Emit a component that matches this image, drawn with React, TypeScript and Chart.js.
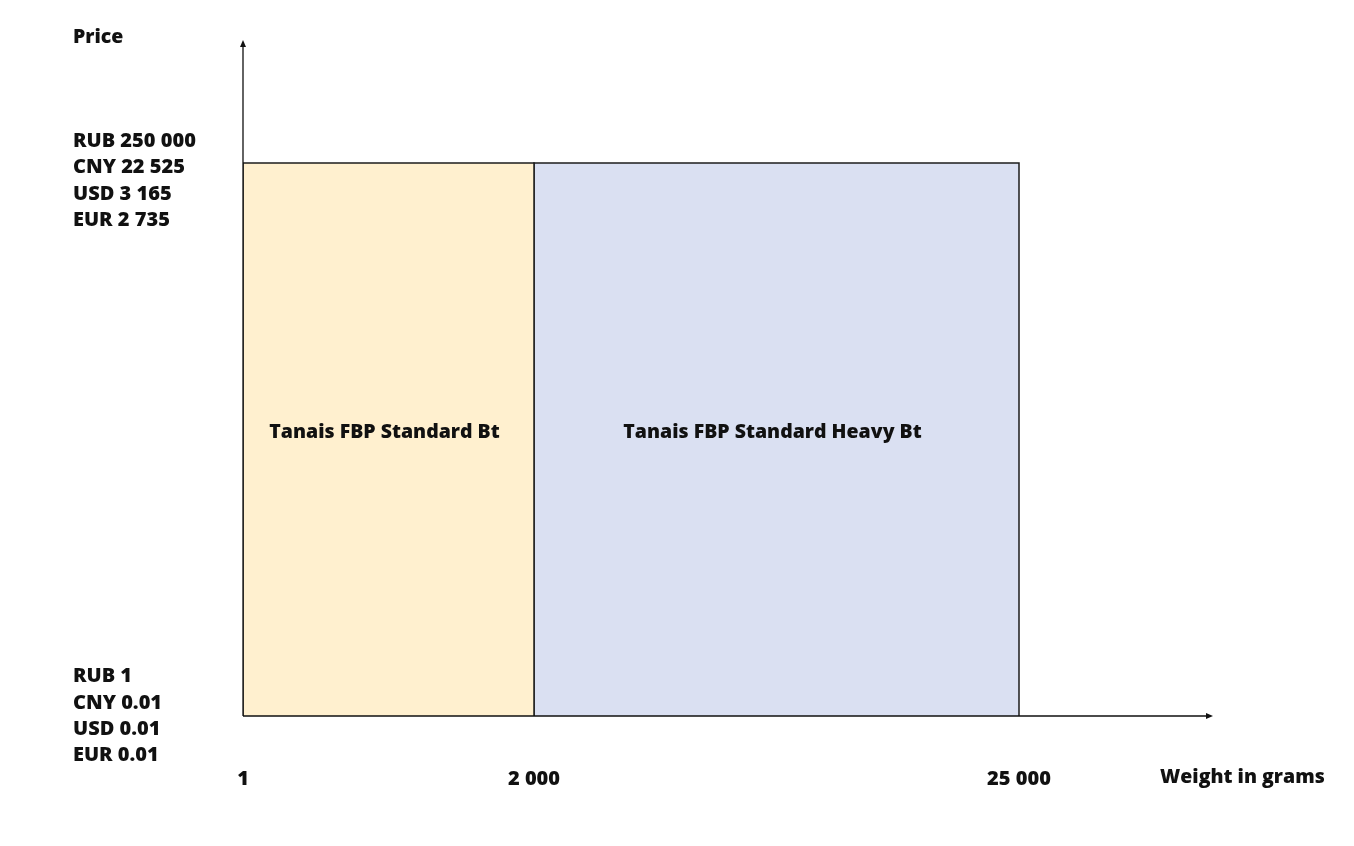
import React, { useEffect, useRef } from "react";
import { Chart, registerables } from "chart.js";

Chart.register(...registerables);

// Schematic weight breakpoints (grams) and their slot on the schematic axis
const weightLabels = ["1", "2 000", "25 000"];
const weightSlots = [0, 3, 8];
const weightAxisEnd = 10;

// Price range labels
const priceTopLabels = ["RUB 250 000", "CNY 22 525", "USD 3 165", "EUR 2 735"];
const priceBottomLabels = ["RUB 1", "CNY 0.01", "USD 0.01", "EUR 0.01"];
const priceTopLevel = 9;
const priceAxisEnd = 11;

// Tariff zones
const tariffNames = ["Tanais FBP Standard Bt", "Tanais FBP Standard Heavy Bt"];
const tariffFromSlot = [0, 3];
const tariffToSlot = [3, 8];
const tariffColors = ["#FFF0CF", "#DAE0F2"];

const FONT = "'Open Sans', Lato, sans-serif";

export default function App() {
  const ref = useRef<HTMLCanvasElement | null>(null);

  useEffect(() => {
    if (!ref.current) return;
    const datasets = tariffNames.map((name, i) => ({
      label: name,
      data: [
        { x: tariffFromSlot[i], y: 0 },
        { x: tariffFromSlot[i], y: priceTopLevel },
        { x: tariffToSlot[i], y: priceTopLevel },
        { x: tariffToSlot[i], y: 0 },
      ],
      showLine: true,
      fill: "origin",
      backgroundColor: tariffColors[i],
      borderColor: "#1c1c1c",
      borderWidth: 1.5,
      pointRadius: 0,
      tension: 0,
    }));

    const overlay = {
      id: "overlay",
      afterDatasetsDraw(chart: any) {
        const ctx = chart.ctx;
        const xs = chart.scales.x;
        const ys = chart.scales.y;
        const x0 = xs.getPixelForValue(0);
        const xEnd = xs.getPixelForValue(weightAxisEnd);
        const y0 = ys.getPixelForValue(0);
        const yEnd = ys.getPixelForValue(priceAxisEnd);
        ctx.save();
        // axes
        ctx.strokeStyle = "#111";
        ctx.fillStyle = "#111";
        ctx.lineWidth = 1.3;
        ctx.beginPath();
        ctx.moveTo(x0, y0);
        ctx.lineTo(xEnd - 4, y0);
        ctx.moveTo(x0, y0);
        ctx.lineTo(x0, yEnd + 4);
        ctx.stroke();
        ctx.beginPath();
        ctx.moveTo(xEnd, y0);
        ctx.lineTo(xEnd - 7, y0 - 3);
        ctx.lineTo(xEnd - 7, y0 + 3);
        ctx.closePath();
        ctx.fill();
        ctx.beginPath();
        ctx.moveTo(x0, yEnd);
        ctx.lineTo(x0 - 3, yEnd + 7);
        ctx.lineTo(x0 + 3, yEnd + 7);
        ctx.closePath();
        ctx.fill();

        // zone labels
        ctx.font = `800 19.5px ${FONT}`;
        ctx.textAlign = "center";
        ctx.textBaseline = "middle";
        const yMid = (ys.getPixelForValue(0) + ys.getPixelForValue(priceTopLevel)) / 2 - 7;
        tariffNames.forEach((n, i) => {
          const cx = (xs.getPixelForValue(tariffFromSlot[i]) + xs.getPixelForValue(tariffToSlot[i])) / 2 - 4;
          ctx.fillText(n, cx, yMid);
        });

        // y labels
        ctx.font = `800 20px ${FONT}`;
        ctx.textAlign = "left";
        const lh = 26.3;
        const left = 73;
        const topCenter = ys.getPixelForValue(priceTopLevel) + 18;
        priceTopLabels.forEach((t, i) => {
          ctx.fillText(t, left, topCenter + (i - 1.5) * lh);
        });
        const botCenter = ys.getPixelForValue(0);
        priceBottomLabels.forEach((t, i) => {
          ctx.fillText(t, left, botCenter + (i - 1.5) * lh);
        });
        ctx.font = `800 19.5px ${FONT}`;
        ctx.fillText("Price", left, 37);

        // x labels
        ctx.font = `800 20px ${FONT}`;
        ctx.textAlign = "center";
        weightLabels.forEach((t, i) => {
          ctx.fillText(t, xs.getPixelForValue(weightSlots[i]), y0 + 63);
        });
        ctx.font = `800 19.5px ${FONT}`;
        ctx.textAlign = "left";
        ctx.fillText("Weight in grams", 1160, y0 + 61);
        ctx.restore();
      },
    };

    const chart = new Chart(ref.current, {
      type: "scatter",
      data: { datasets: datasets as any },
      options: {
        animation: false,
        responsive: false,
        layout: { padding: { left: 243, top: 40, right: 141, bottom: 130 } },
        plugins: { legend: { display: false }, tooltip: { enabled: false } },
        scales: {
          x: { type: "linear", min: 0, max: weightAxisEnd, display: false },
          y: { type: "linear", min: 0, max: priceAxisEnd, display: false },
        },
      },
      plugins: [overlay],
    });
    return () => chart.destroy();
  }, []);

  return (
    <div style={{ position: "fixed", left: 0, top: 0, width: 1354, height: 846, background: "#fff" }}>
      <canvas ref={ref} width={1354} height={846} />
    </div>
  );
}
